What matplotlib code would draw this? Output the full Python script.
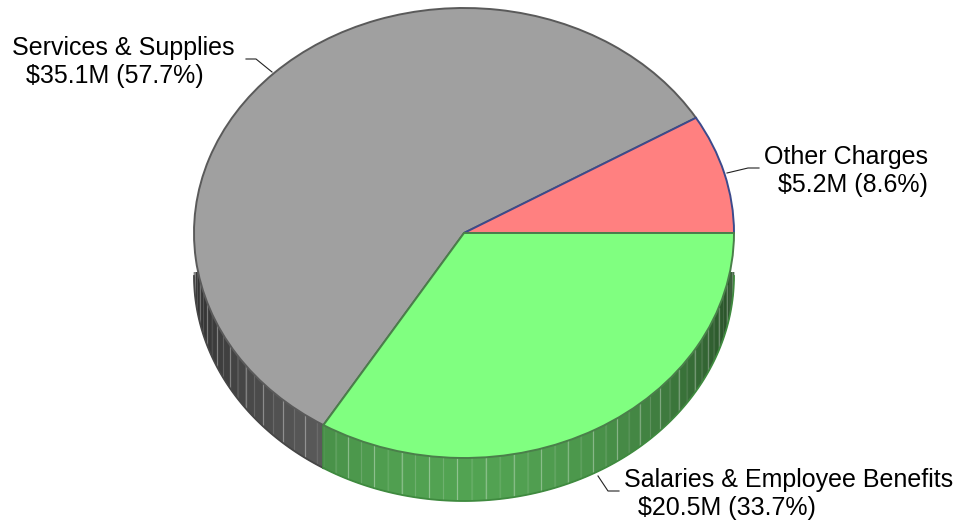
import numpy as np
import matplotlib
matplotlib.use('Agg')
import matplotlib.pyplot as plt
from matplotlib.patches import Rectangle

categories = ['Other Charges', 'Services & Supplies', 'Salaries & Employee Benefits']
amounts = [5.2, 35.1, 20.5]
percents = [8.6, 57.7, 33.7]
face_colors = ['#ff8080', '#a0a0a0', '#80ff80']
edge_colors = ['#3c4a8c', '#5a5a5a', '#4a7f4a']
wall_colors = ['#a05050', '#666666', '#52a352']
wall_edges = ['#3a2020', '#464646', '#3f8a3f']

W, H = 957, 527
CX, CY, RX, RY = 464, 233, 270, 225
DEPTH = 43 / RY
WALL_TOP = (233 - 272) / RY  # nothing of the side shows above this height

plt.rcParams['font.family'] = ['Liberation Sans', 'DejaVu Sans']
fig = plt.figure(figsize=(W / 100, H / 100), dpi=100)
# axes spans the pie's ellipse so the unit circle lands on it
ax = fig.add_axes([(CX - RX) / W, 1 - (CY + RY) / H, 2 * RX / W, 2 * RY / H])
wall_clip = Rectangle((-2, -2), 4, 2 + WALL_TOP, transform=ax.transData)


def wall(t0, t1, color):
    # side of the pie, cut in 3 degree facets
    steps = np.arange(t0, t1, 3.0)
    for i, a in enumerate(steps):
        b = min(a + 3.0, t1)
        th = np.radians(np.linspace(a, b, 6))
        x = np.cos(th)
        y = np.sin(th)
        # darker towards both sides of the pie
        shade = 0.45 + 0.55 * abs(np.sin(np.radians((a + b) / 2))) ** 1.5
        rgb = np.array(matplotlib.colors.to_rgb(color)) * shade
        patch = ax.fill(np.r_[x, x[::-1]], np.r_[y, y[::-1] - DEPTH], fc=rgb, ec=rgb, lw=0.3, zorder=1)[0]
        patch.set_clip_path(wall_clip)
        light = 0.1 if i % 2 else 0.3
        line = ax.plot([x[0], x[0]], [y[0], y[0] - DEPTH], color='white', alpha=light, lw=0.9, zorder=1.5)[0]
        line.set_clip_path(wall_clip)


def wall_outline(t0, t1, color):
    th = np.radians(np.linspace(t0, t1, 120))
    line = ax.plot(np.cos(th), np.sin(th) - DEPTH, color=color, lw=1.3, zorder=1.6)[0]
    line.set_clip_path(wall_clip)
    if t0 > 180:
        ax.plot([np.cos(th[0])] * 2, [np.sin(th[0]), np.sin(th[0]) - DEPTH], color=color, lw=1.2,
                zorder=1.6, clip_on=False)


wedges, _ = ax.pie(amounts, colors=face_colors, startangle=0, counterclock=True, radius=1,
                   center=(0, 0), frame=True, wedgeprops={'linewidth': 1.4})
ax.set_aspect('auto')
ax.set_xlim(-1, 1)
ax.set_ylim(-1, 1)
ax.set_axis_off()
ax.patch.set_visible(False)

for w, ec in zip(wedges, edge_colors):
    w.set_edgecolor(ec)
    w.set_clip_on(False)
# drawing order gray, pink, green gives the shared edges their colours
wedges[1].set_zorder(2.0)
wedges[0].set_zorder(2.1)
wedges[2].set_zorder(2.2)

for w, wc, ec in zip(wedges, wall_colors, wall_edges):
    t0, t1 = max(w.theta1, 180), min(w.theta2, 360)
    if t1 > t0:
        wall(t0, t1, wc)
        wall_outline(t0, t1, ec)

label_x = [764, 12, 624]
label_y = [157, 48, 480]
SECOND_LINE_DX = 14
LINE_DY = 28
leader_pts = [
    ((727, 173), (748, 168), (759, 168)),
    ((272, 72), (256, 59), (246, 59)),
    ((598, 476), (608, 491), (619, 491)),
]
for name, amt, pct, lx, ly, pts in zip(categories, amounts, percents, label_x, label_y, leader_pts):
    fig.text(lx / W, 1 - ly / H, name, ha='left', va='center', fontsize=18, color='black')
    fig.text((lx + SECOND_LINE_DX) / W, 1 - (ly + LINE_DY) / H, f'${amt}M ({pct}%)', ha='left',
             va='center', fontsize=18, color='black')
    xs = [p[0] / W for p in pts]
    ys = [1 - p[1] / H for p in pts]
    fig.add_artist(plt.Line2D(xs, ys, color='#222222', lw=0.8))

fig.savefig('out.png', dpi=100, facecolor='white')
